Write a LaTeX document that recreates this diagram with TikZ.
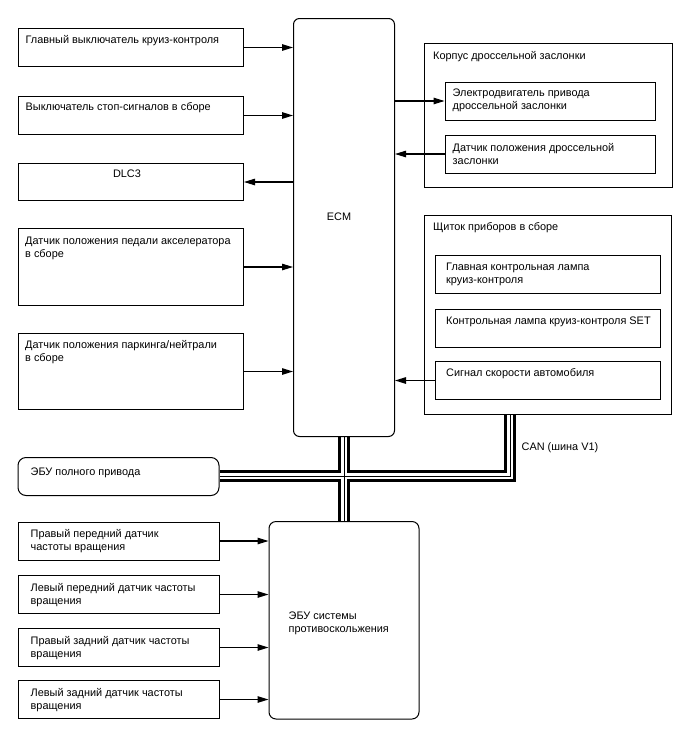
\documentclass[tikz,border=0pt]{standalone}
\usepackage{fontspec}
\setmainfont{Liberation Sans}
\usetikzlibrary{arrows.meta}
\pgfdeclarelayer{background}
\pgfsetlayers{background,main}
\begin{document}
\begin{tikzpicture}[x=1pt,y=-1pt,
  box/.style={draw, line width=1pt, inner sep=0pt, anchor=north west},
  rbox/.style={box, rounded corners=6pt},
  txt/.style={anchor=north west, inner sep=0pt, align=left, yshift=9.1pt,
    font=\fontsize{10.9}{13}\selectfont},
  arr/.style={line width=1.1pt, -{Triangle[length=11pt,width=6.5pt]}}]
\useasboundingbox (0,0) rectangle (688,755);
% left input boxes
\node[box, minimum width=225pt, minimum height=38pt] (b1) at (18,28) {};
\node[box, minimum width=225pt, minimum height=38pt] (b2) at (18,96) {};
\node[box, minimum width=225pt, minimum height=37pt] (dlc) at (18,163) {};
\node[box, minimum width=225pt, minimum height=77pt] (b4) at (18,228) {};
\node[box, minimum width=225pt, minimum height=76pt] (b5) at (18,333) {};
% ECM
\node[rbox, minimum width=101pt, minimum height=418pt] (ecm) at (293,18) {};
% throttle body
\node[box, minimum width=248.5pt, minimum height=143.5pt] (thr) at (423.5,43) {};
\node[box, minimum width=210pt, minimum height=38pt] (t1) at (444.5,81.5) {};
\node[box, minimum width=210pt, minimum height=38pt] (t2) at (444.5,134.5) {};
% instrument panel
\node[box, minimum width=247pt, minimum height=198.5pt] (pan) at (423.5,215) {};
\node[box, minimum width=225pt, minimum height=38pt] (p1) at (435,255) {};
\node[box, minimum width=225pt, minimum height=38pt] (p2) at (435,308.5) {};
\node[box, minimum width=225pt, minimum height=38pt] (p3) at (435,361) {};
% AWD ECU and ABS ECU
\node[box, rounded corners=8pt, minimum width=201pt, minimum height=38pt] (awd) at (17.5,457) {};
\node[box, rounded corners=7pt, minimum width=150pt, minimum height=197.5pt] (abs) at (268.5,521) {};
% speed sensors
\node[box, minimum width=201pt, minimum height=38pt] (s1) at (17.5,521.5) {};
\node[box, minimum width=201pt, minimum height=38pt] (s2) at (17.5,575) {};
\node[box, minimum width=201pt, minimum height=38pt] (s3) at (17.5,628) {};
\node[box, minimum width=201pt, minimum height=38pt] (s4) at (17.5,680) {};

% texts
\node[txt] (b1t) at (25.5,43.5) {\strut Главный выключатель круиз-контроля};
\node[txt] (b2t) at (25.5,110) {\strut Выключатель стоп-сигналов в сборе};
\node[anchor=base, inner sep=0pt, font=\fontsize{10.9}{13}\selectfont] (dlct) at (127,177.7) {DLC3};
\node[txt] (b4t) at (25,244.5) {\strut Датчик положения педали акселератора\\в сборе};
\node[txt] (b5t) at (25,348.5) {\strut Датчик положения паркинга/нейтрали\\в сборе};
\node[anchor=base, inner sep=0pt, font=\fontsize{10.9}{13}\selectfont] (ecmt) at (339,220.5) {ECM};
\node[txt] (thrt) at (433,59.5) {\strut Корпус дроссельной заслонки};
\node[txt] (t1t) at (452.5,96) {\strut Электродвигатель привода\\дроссельной заслонки};
\node[txt] (t2t) at (452.5,151.5) {\strut Датчик положения дроссельной\\заслонки};
\node[txt] (pant) at (433,230.5) {\strut Щиток приборов в сборе};
\node[txt] (p1t) at (446,270) {\strut Главная контрольная лампа\\круиз-контроля};
\node[txt] (p2t) at (446,324) {\strut Контрольная лампа круиз-контроля SET};
\node[txt] (p3t) at (446,376.5) {\strut Сигнал скорости автомобиля};
\node[txt] (awdt) at (30.5,475.5) {\strut ЭБУ полного привода};
\node[txt] (abst) at (288.5,619) {\strut ЭБУ системы\\противоскольжения};
\node[txt] (s1t) at (30.5,537.5) {\strut Правый передний датчик\\частоты вращения};
\node[txt] (s2t) at (30.5,591) {\strut Левый передний датчик частоты\\вращения};
\node[txt] (s3t) at (30.5,644) {\strut Правый задний датчик частоты\\вращения};
\node[txt] (s4t) at (30.5,696.5) {\strut Левый задний датчик частоты\\вращения};
\node[txt] (cant) at (521.5,450.5) {\strut CAN (шина V1)};

% arrows
\draw[arr] (b1.east) -- (b1.east -| ecm.west);
\draw[arr] (b2.east) -- (b2.east -| ecm.west);
\draw[arr] (dlc.east -| ecm.west) -- (dlc.east);
\draw[arr] (b4.east) -- (b4.east -| ecm.west);
\draw[arr] (b5.east) -- (b5.east -| ecm.west);
\draw[arr] (t1.west -| ecm.east) -- (t1.west);
\draw[arr] (t2.west) -- (t2.west -| ecm.east);
\draw[arr] (p3.west) -- (p3.west -| ecm.east);
\draw[arr] (s1.east) -- (s1.east -| abs.west);
\draw[arr] (s2.east) -- (s2.east -| abs.west);
\draw[arr] (s3.east) -- (s3.east -| abs.west);
\draw[arr] (s4.east) -- (s4.east -| abs.west);

% CAN bus
\coordinate (j) at (344,476);
\coordinate (cb) at (510,476);
\begin{pgfonlayer}{background}
\foreach \w/\c in {12/black,6.5/white,1/black}{
  \draw[line width=\w pt, \c, line join=miter]
    (ecm.south -| j) -- (abs.north -| j)
    (awd.east |- j) -- (cb) -- (cb |- pan.south);
}
\end{pgfonlayer}
\end{tikzpicture}
\end{document}
